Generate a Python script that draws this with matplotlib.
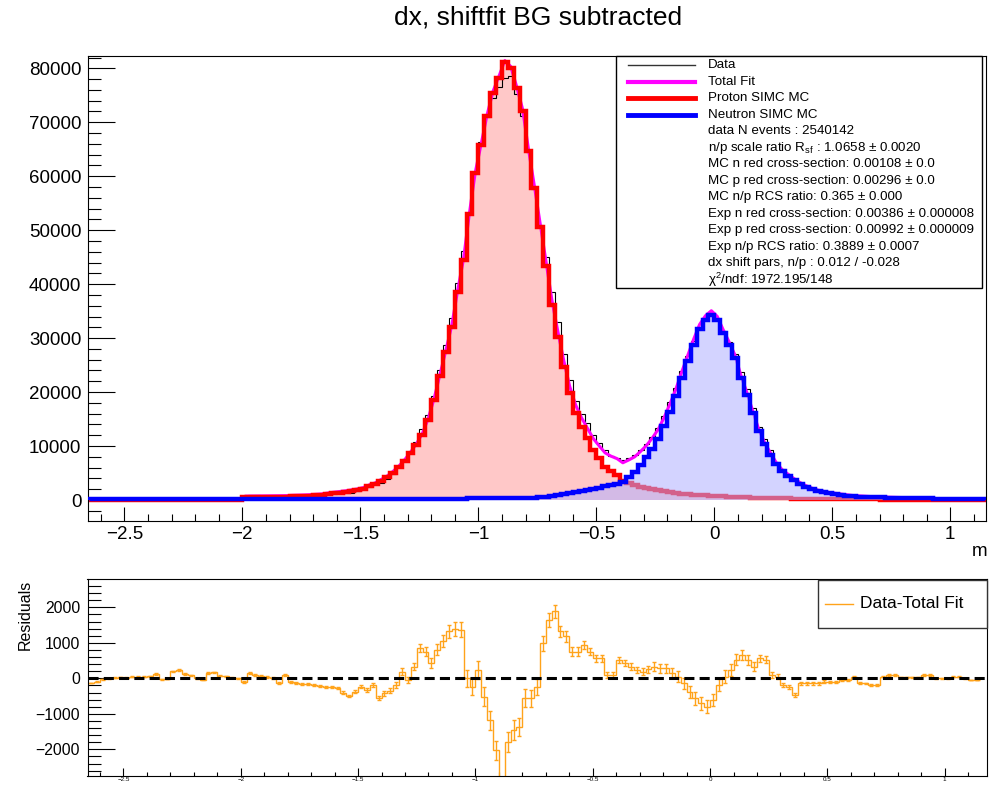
import numpy as np
import matplotlib.pyplot as plt
from matplotlib.lines import Line2D
from matplotlib.patches import Rectangle
from matplotlib.ticker import MultipleLocator, FuncFormatter

plt.rcParams['font.family'] = ['Liberation Sans', 'DejaVu Sans']
plt.rcParams['mathtext.fontset'] = 'custom'
plt.rcParams['mathtext.rm'] = 'Liberation Sans'
plt.rcParams['mathtext.it'] = 'Liberation Sans:italic'

# binning of dx (m)
x_lo, x_hi, n_bins = -2.65, 1.15, 152

# proton SIMC MC, counts per bin
proton_mc = [0] * 26 + [
    550, 560, 570, 580, 590, 600, 620, 640, 700, 730, 770, 820, 900, 960,
    1100, 1250, 1380, 1500, 1670, 1850, 2100, 2590, 2960, 3580,
    4200, 5060, 6050, 7230, 8650, 10190, 12040, 14820, 18530, 22980,
    27480, 32110, 38600, 44470, 52940, 60540, 65780, 71150, 75470, 78250,
    81100, 80000, 76290, 72140, 64670, 57760, 50640, 43400, 36130, 30260,
    24700, 19770, 16180, 13590, 11430, 9270, 7720, 6180, 5370, 4630,
    3500, 3100, 2800, 2500, 2200, 2000, 1800, 1600, 1450, 1300,
    1200, 1100, 1000, 920, 850, 780, 720, 660, 610, 560,
    520, 480, 440, 410, 380, 350, 330, 310, 290, 270,
    250, 230, 215, 200, 185, 170, 160, 150, 140, 130,
    120, 110, 100, 95, 90, 85, 80, 75, 70, 65,
] + [0] * 12

# neutron SIMC MC, counts per bin
neutron_mc = [150] * 20 + [170] * 20 + [200] * 16 + [240] * 8 + [280] * 6 + [330] * 4 + [
    380, 450, 530, 620, 740, 870,
    1050, 1250, 1420, 1650, 1850, 2100, 2300, 2550, 2750, 3050,
    3400, 4320, 5200, 6500, 7900, 9500, 11300, 13700, 16400, 19300,
    22600, 25700, 28800, 31600, 33300, 34300, 33300, 30900, 28700, 26300,
    22600, 19500, 16100, 12800, 10300, 8400, 6600, 5300, 4500, 3700,
    3000, 2450, 2000, 1650, 1420, 1220, 1080, 920, 820, 700,
    640, 590, 540, 500, 470, 440, 410, 390, 360, 340,
    320, 300, 280, 260, 245, 230, 215, 200, 190, 180, 170, 160,
]

# data - total fit, per bin
residuals = [
    -140, -90, -30, 0, 20, 30, 20, 50, 40, 40,
    60, 120, -30, -20, 200, 235, 120, 90, 0, -40,
    150, 170, 70, 60, 20, 0, -95, 140, 100, 60,
    40, 0, -120, 95, -95, -140, -150, -170, -190, -210,
    -240, -250, -270, -400, -500, -375, -235, -330, -190, -545,
    -425, -350, -190, 190, -50, 330, 850, 755, 425, 800,
    1040, 1320, 1385, 1370, 0, -235, 235, -520, -1180, -2030,
    -3300, -1790, -1460, -1370, -565, -560, -235, 990, 1650, 1890,
    1320, 1180, 755, 755, 940, 755, 565, 565, 95, 95,
    520, 425, 330, 235, 190, 250, 330, 280, 280, 150,
    50, -140, -375, -565, -700, -800, -610, -190, 50, 235,
    520, 660, 520, 330, 565, 520, 95, 50, -190, -235,
    -470, -140, -140, -140, -140, -95, -95, -95, -50, -50,
    30, -140, -140, -190, -190, 50, 95, 95, 30, 30,
    30, 30, 95, 95, 0, 0, 0, 50, 50, 0, -50, -50,
]

legend_names = ["Data", "Total Fit", "Proton SIMC MC", "Neutron SIMC MC"]
legend_colors = ["#333333", "#ff00ff", "#ff0000", "#0000ff"]
legend_widths = [1.0, 3.0, 3.5, 3.5]
fit_info = [
    "data N events : 2540142",
    r"n/p scale ratio R$_{\mathrm{sf}}$ : 1.0658 ± 0.0020",
    "MC n red cross-section: 0.00108 ± 0.0",
    "MC p red cross-section: 0.00296 ± 0.0",
    "MC n/p RCS ratio: 0.365 ± 0.000",
    "Exp n red cross-section: 0.00386 ± 0.000008",
    "Exp p red cross-section: 0.00992 ± 0.000009",
    "Exp n/p RCS ratio: 0.3889 ± 0.0007",
    "dx shift pars, n/p : 0.012 / -0.028",
    r"χ$^{2}$/ndf: 1972.195/148",
]

edges = np.linspace(x_lo, x_hi, n_bins + 1)
centers = 0.5 * (edges[1:] + edges[:-1])
proton = np.array(proton_mc, dtype=float)
neutron = np.array(neutron_mc, dtype=float)
resid = np.array(residuals, dtype=float)
total_fit = proton + neutron
data = total_fit + resid
res_err = np.sqrt(np.clip(data, 0, None))

W, H = 994, 785
fx = lambda px: px / W
fy = lambda py: 1 - py / H
short_fmt = FuncFormatter(lambda v, pos: ('%g' % v).replace('-', '\u2212'))

fig = plt.figure(figsize=(W / 100, H / 100), dpi=100)
ax = fig.add_axes([fx(87.5), fy(521), fx(985.7) - fx(87.5), fy(56) - fy(521)])
ax2 = fig.add_axes([fx(87.5), fy(776), fx(986.7) - fx(87.5), fy(579) - fy(776)])

# top panel
ax.stairs(proton, edges, fill=True, color='#ffc8c8', zorder=1)
ax.stairs(data, edges, color='black', lw=0.8, zorder=2)
ax.plot(centers, total_fit, color='#ff00ff', lw=2.2, zorder=3)
ax.stairs(proton, edges, color='#ff0000', lw=3.2, zorder=4)
ax.stairs(neutron, edges, fill=True, color='#b0b0ff', alpha=0.55, zorder=5)
ax.stairs(neutron, edges, color='#0000ff', lw=3.2, zorder=6)

ax.set_xlim(-2.656, 1.150)
ax.set_ylim(-3890, 82280)
ax.xaxis.set_major_locator(MultipleLocator(0.5))
ax.xaxis.set_minor_locator(MultipleLocator(0.1))
ax.xaxis.set_major_formatter(short_fmt)
ax.yaxis.set_major_locator(MultipleLocator(10000))
ax.yaxis.set_minor_locator(MultipleLocator(2000))
ax.tick_params(which='both', direction='in', top=False, right=False, width=0.8)
ax.tick_params(axis='y', which='major', length=19.4, labelsize=13.5, pad=4.5)
ax.tick_params(axis='y', which='minor', length=9.4)
ax.tick_params(axis='x', which='major', length=10, labelsize=13.5, pad=3.5)
ax.tick_params(axis='x', which='minor', length=5)
for s in ax.spines.values():
    s.set_linewidth(0.8)

fig.text(fx(980), fy(551), "m", ha='center', va='center', fontsize=13.5)
fig.text(fx(538), fy(18), "dx, shiftfit BG subtracted", ha='center', va='center', fontsize=19)

# top legend box
fig.add_artist(Rectangle((fx(616), fy(288)), fx(982) - fx(616), fy(56) - fy(288),
                         transform=fig.transFigure, facecolor='white', edgecolor='black',
                         lw=1.0, zorder=10))
row_h = 16.54
for i, (name, col, lw) in enumerate(zip(legend_names, legend_colors, legend_widths)):
    y = fy(65 + row_h * i)
    fig.add_artist(Line2D([fx(628), fx(695)], [y, y], color=col, lw=lw,
                          transform=fig.transFigure, zorder=11))
    fig.text(fx(708), y, name, ha='left', va='center', fontsize=9.6, zorder=11)
for j, txt in enumerate(fit_info):
    y = fy(65 + row_h * (j + len(legend_names)))
    fig.text(fx(708), y, txt, ha='left', va='center', fontsize=9.6, zorder=11)

# residual panel
orange = '#ffa31a'
ax2.stairs(resid, edges, color=orange, lw=1.0, baseline=None, zorder=2)
ax2.errorbar(centers, resid, yerr=res_err, fmt='none', ecolor=orange,
             elinewidth=1.0, capsize=1.5, zorder=2)
ax2.axhline(0, color='black', lw=2.2, ls=(0, (3.3, 1.7)), zorder=3)
ax2.set_xlim(-2.653, 1.179)
ax2.set_ylim(-2750, 2797)
ax2.xaxis.set_major_locator(MultipleLocator(0.5))
ax2.xaxis.set_minor_locator(MultipleLocator(0.1))
ax2.xaxis.set_major_formatter(short_fmt)
ax2.yaxis.set_major_locator(MultipleLocator(1000))
ax2.yaxis.set_minor_locator(MultipleLocator(200))
ax2.tick_params(which='both', direction='in', top=False, right=False, width=0.8)
ax2.tick_params(axis='y', which='major', length=19.4, labelsize=11.3, pad=5.4)
ax2.tick_params(axis='y', which='minor', length=9.4)
ax2.tick_params(axis='x', which='major', length=5.8, labelsize=4.5, pad=0.5)
ax2.tick_params(axis='x', which='minor', length=3)
for s in ax2.spines.values():
    s.set_linewidth(0.8)

fig.text(fx(25), fy(615), "Residuals", rotation=90, ha='center', va='center', fontsize=11.5)

fig.add_artist(Rectangle((fx(818), fy(628)), fx(987) - fx(818), fy(580) - fy(628),
                         transform=fig.transFigure, facecolor='white', edgecolor='#333333',
                         lw=1.0, zorder=10))
fig.add_artist(Line2D([fx(825), fx(853)], [fy(604), fy(604)], color=orange, lw=1.0,
                      transform=fig.transFigure, zorder=11))
fig.text(fx(860), fy(604), "Data-Total Fit", ha='left', va='center', fontsize=12.5, zorder=11)

fig.savefig("out.png", dpi=100)
